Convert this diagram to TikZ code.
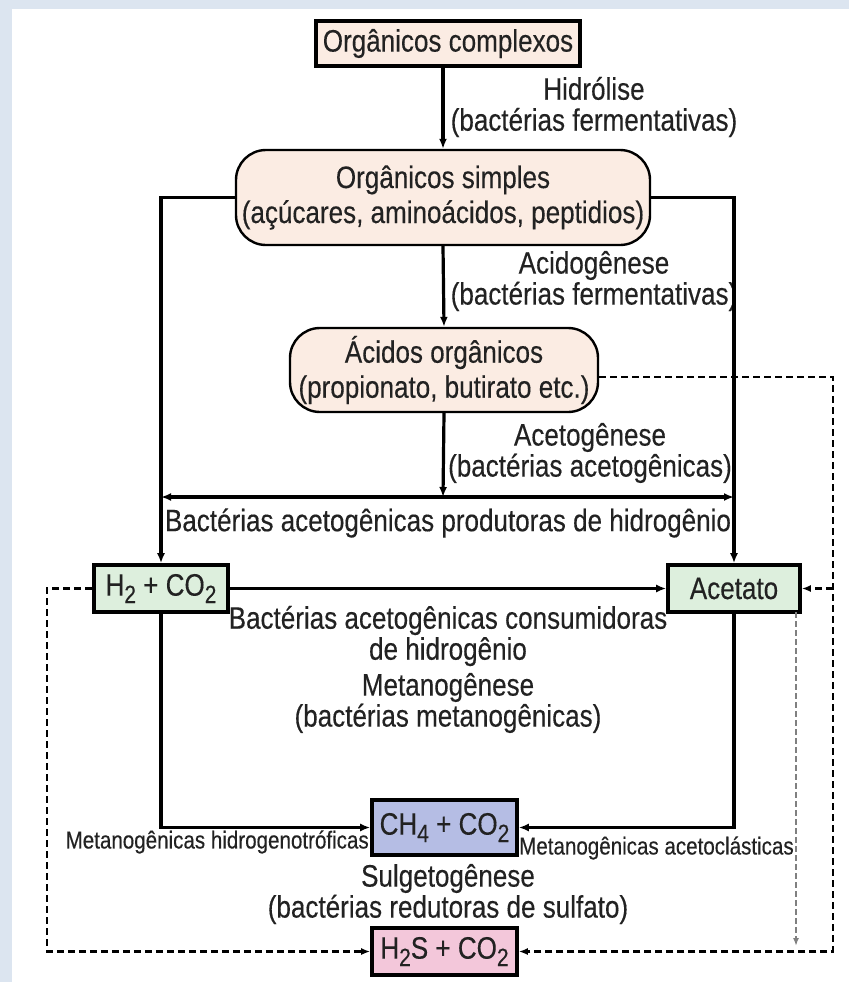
\documentclass[tikz,border=0pt]{standalone}
\usepackage{fontspec}
\setmainfont[FakeStretch=0.84,FakeBold=0.3]{Liberation Sans}
\usetikzlibrary{arrows.meta}
\definecolor{bgblue}{HTML}{DCE5F0}
\definecolor{peach}{HTML}{FBECE3}
\definecolor{mint}{HTML}{DDEFDD}
\definecolor{lav}{HTML}{B5BDE4}
\definecolor{rose}{HTML}{F3C7DA}
\definecolor{ink}{HTML}{222222}
\newcommand{\sbt}[1]{\raisebox{-0.45ex}{\fontsize{25}{25}\selectfont #1}}
\tikzset{
 box/.style={draw=black, line width=3.6pt, inner sep=0pt, text=ink, font=\fontsize{31}{35}\selectfont, align=center},
 rbox/.style={box, line width=2.4pt, rounded corners=30pt},
 lbl/.style={text=ink, font=\fontsize{31}{31}\selectfont, align=center, inner sep=0pt},
 slbl/.style={text=ink, font=\fontsize{24.5}{26}\selectfont, inner sep=0pt},
 conn/.style={line width=3.2pt, -{Latex[length=10pt,width=8pt]}},
 dblconn/.style={line width=3.2pt, {Latex[length=10pt,width=8pt]}-{Latex[length=10pt,width=8pt]}},
 dconn/.style={line width=2.8pt, dash pattern=on 7pt off 4pt, -{Latex[length=9pt,width=7pt]}},
 gconn/.style={line width=1.8pt, draw=gray, dash pattern=on 6pt off 3pt, -{Latex[length=8pt,width=6pt]}},
}
\begin{document}
\begin{tikzpicture}[x=1pt,y=-1pt]
\fill[bgblue] (0,0) rectangle (849,982);
\fill[white] (12,9) rectangle (849,982);
\useasboundingbox (0,0) rectangle (849,982);

% boxes
\node[box, fill=peach, minimum width=264pt, minimum height=45pt] (oc) at (448,43.5) {Orgânicos complexos};
\node[rbox, fill=peach, minimum width=414pt, minimum height=95pt] (os) at (443,197.5) {Orgânicos simples\\(açúcares, aminoácidos, peptidios)};
\node[rbox, fill=peach, minimum width=308pt, minimum height=84pt] (ao) at (444,370) {Ácidos orgânicos\\(propionato, butirato etc.)};
\node[box, fill=mint, minimum width=134pt, minimum height=47pt] (h2) at (161,588.5) {H\sbt{2} + CO\sbt{2}};
\node[box, fill=mint, minimum width=132pt, minimum height=47pt] (ac) at (734,588.5) {Acetato};
\node[box, fill=lav, minimum width=145pt, minimum height=55pt] (ch4) at (444.5,827.5) {CH\sbt{4} + CO\sbt{2}};
\node[box, fill=rose, minimum width=145pt, minimum height=47pt] (h2s) at (444.5,951.5) {H\sbt{2}S + CO\sbt{2}};

% labels
\node[lbl] (hid) at (594,107) {Hidrólise\\(bactérias fermentativas)};
\node[lbl] (acid) at (594,281) {Acidogênese\\(bactérias fermentativas)};
\node[lbl] (acet) at (590,453) {Acetogênese\\(bactérias acetogênicas)};
\node[lbl] (prod) at (448,523) {Bactérias acetogênicas produtoras de hidrogênio};
\node[lbl] (cons) at (448,636) {Bactérias acetogênicas consumidoras\\de hidrogênio};
\node[lbl] (met) at (448,703) {Metanogênese\\(bactérias metanogênicas)};
\node[lbl] (sulf) at (448,894) {Sulgetogênese\\(bactérias redutoras de sulfato)};
\node[slbl, anchor=east] (mh) at (369,842) {Metanogênicas hidrogenotróficas};
\node[slbl, anchor=west] (ma) at (519,848) {Metanogênicas acetoclásticas};

% coordinates
\coordinate (mid) at (443,497);
\coordinate (pl) at (h2.north |- mid);
\coordinate (pr) at (ac.north |- mid);
\coordinate (rt) at (833,377);
\coordinate (rb) at (833,951.5);
\coordinate (lb) at (47,951.5);
\coordinate (gt) at (796,612);
\coordinate (gb) at (796,946);

% solid connectors
\draw[conn] (os.north |- oc.south) -- (os.north);
\draw[conn] (os.south) -- (ao.north);
\draw[conn] (ao.south) -- (mid);
\draw[dblconn] (pl) -- (pr);
\draw[conn] (os.west) -| (h2.north);
\draw[conn] (os.east) -| (ac.north);
\draw[conn] (h2.east) -- (ac.west);
\draw[conn] (h2.south) |- (ch4.west);
\draw[conn] (ac.south) |- (ch4.east);

% dashed connectors
\draw[dconn] ([yshift=-7pt]ao.east) -- (rt) -- (rb) -- (h2s.east);
\draw[dconn] (rt |- ac.east) -- (ac.east);
\draw[dconn] (h2.west) -| (lb) -- (h2s.west);
\draw[gconn] (gt) -- (gb);
\end{tikzpicture}
\end{document}
